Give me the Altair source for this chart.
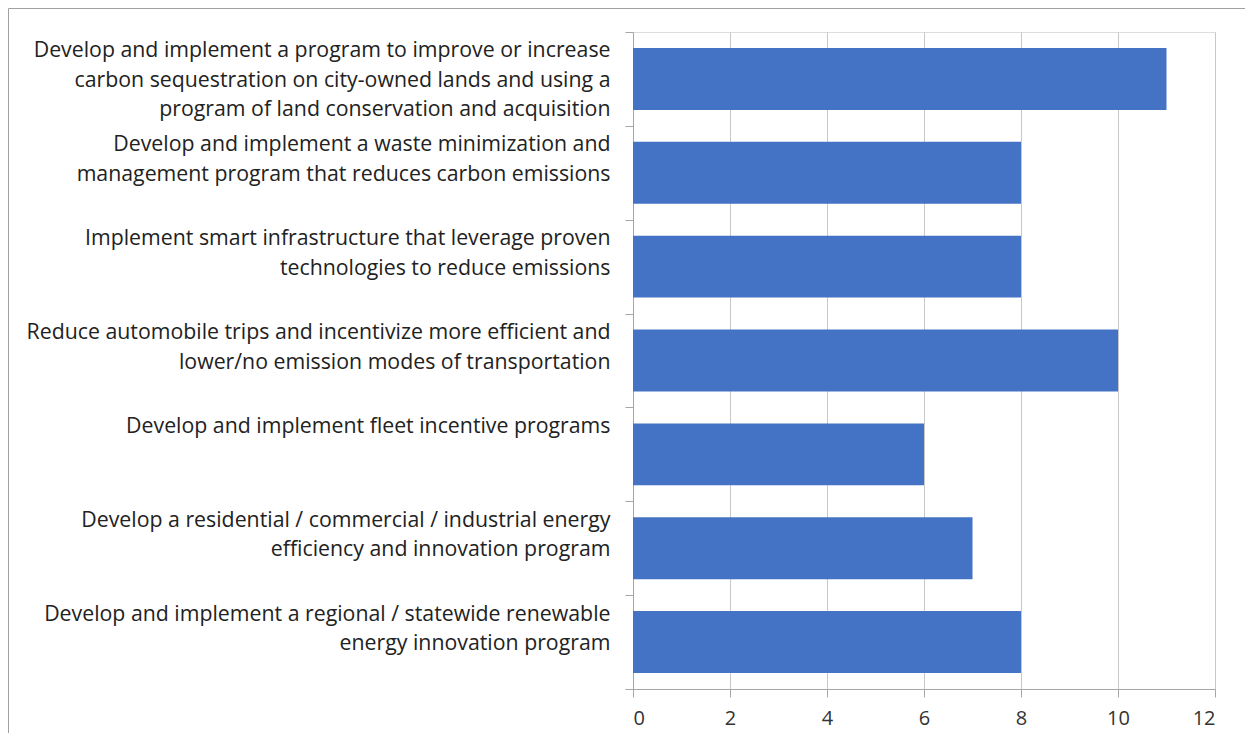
import altair as alt
import pandas as pd

categories = [
    "Develop and implement a program to improve or increase\ncarbon sequestration on city-owned lands and using a\nprogram of land conservation and acquisition",
    "Develop and implement a waste minimization and\nmanagement program that reduces carbon emissions",
    "Implement smart infrastructure that leverage proven\ntechnologies to reduce emissions",
    "Reduce automobile trips and incentivize more efficient and\nlower/no emission modes of transportation",
    "Develop and implement fleet incentive programs",
    "Develop a residential / commercial / industrial energy\nefficiency and innovation program",
    "Develop and implement a regional / statewide renewable\nenergy innovation program",
]
values = [11, 8, 8, 10, 6, 7, 8]
x_ticks = [0, 2, 4, 6, 8, 10, 12]

df = pd.DataFrame({"cat": categories, "val": values})

FONT = "Open Sans"

bars = alt.Chart(df).mark_bar(
    color="#4472C4", height=alt.RelativeBandSize(0.66)
).encode(
    x=alt.X(
        "val:Q",
        scale=alt.Scale(domain=[0, 12], nice=False),
        axis=alt.Axis(
            values=x_ticks,
            title=None,
            grid=True,
            gridColor="#c8c8c8",
            gridWidth=1,
            domainColor="#a6a6a6",
            tickColor="#a6a6a6",
            tickSize=8,
            labelPadding=11,
            labelFont=FONT,
            labelFontSize=20,
            labelColor="#333333",
        ),
    ),
    y=alt.Y(
        "cat:N",
        sort=categories,
        scale=alt.Scale(paddingInner=0, paddingOuter=0),
        axis=alt.Axis(
            title=None,
            tickBand="extent",
            domainColor="#a6a6a6",
            tickColor="#a6a6a6",
            tickSize=8,
            labelPadding=15,
            labelFont=FONT,
            labelFontSize=21.3,
            labelColor="#222222",
            labelBaseline="top",
            labelOffset=-39,
            labelLineHeight=29.5,
            labelLimit=700,
            labelExpr="isValid(datum.value) ? split(datum.value, '\\n') : ''",
        ),
    ),
)

border = alt.Chart(pd.DataFrame({"a": [0]})).mark_rect(
    filled=False, stroke="#a0a0a0", strokeWidth=1
).encode(
    x=alt.value(-624.5),
    x2=alt.value(2000),
    y=alt.value(-23.5),
    y2=alt.value(2000),
)

chart = alt.layer(border, bars).properties(
    width=582,
    height=657,
    autosize=alt.AutoSizeParams(type="none"),
    padding={"left": 625, "top": 24, "right": 30, "bottom": 44},
).configure_view(stroke=None).configure(background="white")

chart.save("out.html", embed_options={"renderer": "svg", "actions": False})
